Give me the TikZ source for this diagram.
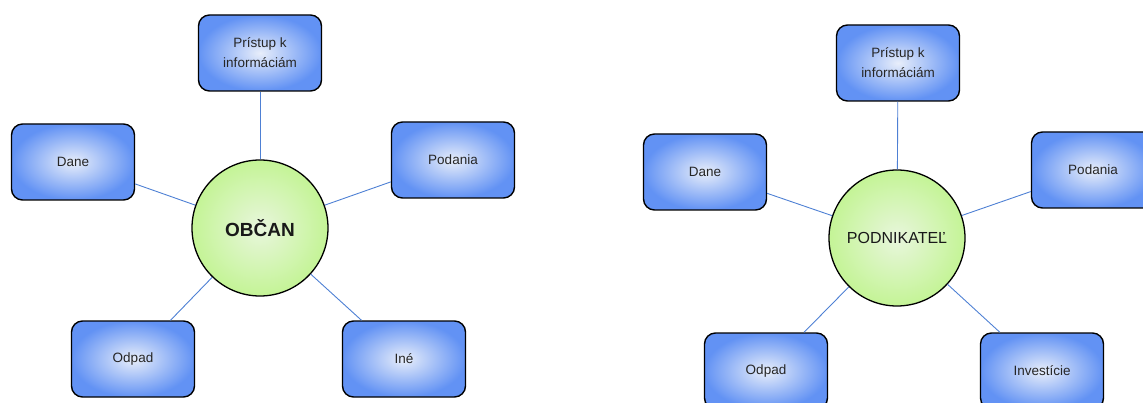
\documentclass[tikz,border=0pt]{standalone}
\usepackage{fontspec}
\setmainfont{Liberation Sans}
\definecolor{boxout}{RGB}{98,146,244}
\definecolor{boxin}{RGB}{232,238,250}
\definecolor{circout}{RGB}{196,244,150}
\definecolor{circin}{RGB}{232,246,220}
\definecolor{linkc}{RGB}{78,128,212}
\tikzset{
  topic/.style={draw=black, line width=1.4pt, rounded corners=11pt,
    minimum width=123pt, minimum height=76pt, inner color=boxin, outer color=boxout,
    align=center, font=\fontsize{13.5}{20}\selectfont, text=black!85},
  hub/.style={circle, draw=black, line width=1.3pt, minimum size=136pt, inner sep=0pt,
    inner color=circin, outer color=circout, text=black!90},
  link/.style={draw=linkc, line width=0.9pt}
}
\begin{document}
\begin{tikzpicture}[x=1pt,y=-1pt]
\useasboundingbox (0,0) rectangle (1143,403);
\clip (0,0) rectangle (1143,403);
% left group
\node[hub, font=\bfseries\fontsize{19}{22}\selectfont] (obcan) at (260,228) {OBČAN};
\node[topic] (lpri) at (260,53) {Prístup k\\informáciám};
\node[topic] (ldane) at (73,162) {Dane};
\node[topic] (lpod) at (453,160) {Podania};
\node[topic] (lodp) at (133,359) {Odpad};
\node[topic] (line) at (404,359) {Iné};
\draw[link] (obcan) -- (lpri);
\draw[link] (obcan) -- (ldane);
\draw[link] (obcan) -- (lpod);
\draw[link] (obcan) -- (lodp);
\draw[link] (obcan) -- (line);
% right group
\node[hub, font=\fontsize{16}{19}\selectfont] (podn) at (897,238) {PODNIKATEĽ};
\node[topic] (rpri) at (898,63) {Prístup k\\informáciám};
\node[topic] (rdane) at (705,172) {Dane};
\node[topic] (rpod) at (1093,170) {Podania};
\node[topic] (rodp) at (766,371) {Odpad};
\node[topic] (rinv) at (1042,371) {Investície};
\draw[link] (podn) -- (rpri);
\draw[link] (podn) -- (rdane);
\draw[link] (podn) -- (rpod);
\draw[link] (podn) -- (rodp);
\draw[link] (podn) -- (rinv);
\end{tikzpicture}
\end{document}
